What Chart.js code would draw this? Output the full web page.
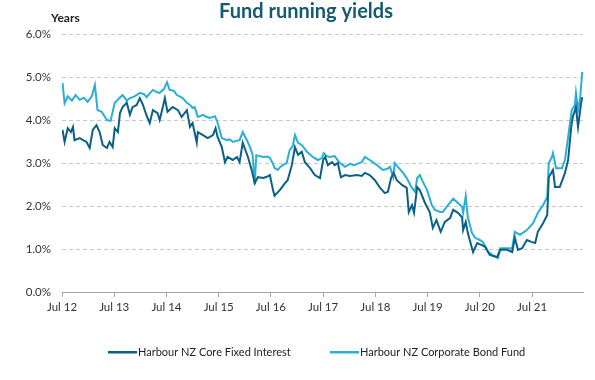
<!DOCTYPE html>
<html>
<head>
<meta charset="utf-8">
<script src="https://cdn.jsdelivr.net/npm/chart.js@4"></script>
<style>
html,body{margin:0;padding:0;background:#fff;}
#wrap{width:595px;height:380px;position:relative;}
</style>
</head>
<body>
<div id="wrap"><canvas id="c" width="595" height="380"></canvas></div>
<script>
const chartTitle = "Fund running yields";
const yAxisTitle = "Years";
const seriesNames = ["Harbour NZ Core Fixed Interest", "Harbour NZ Corporate Bond Fund"];
const seriesColors = ["#0b6185", "#2aaed6"];

const xTickValues = [2012.5, 2013.5, 2014.5, 2015.5, 2016.5, 2017.5, 2018.5, 2019.5, 2020.5, 2021.5];
const xTickLabels = ["Jul 12", "Jul 13", "Jul 14", "Jul 15", "Jul 16", "Jul 17", "Jul 18", "Jul 19", "Jul 20", "Jul 21"];
const yTickLabels = ["0.0%", "1.0%", "2.0%", "3.0%", "4.0%", "5.0%", "6.0%"];

// Harbour NZ Core Fixed Interest (dates as decimal years, values in %)
const coreDates = [2012.51,2012.55,2012.61,2012.67,2012.71,2012.74,2012.84,2012.92,2012.97,2013.03,2013.09,2013.16,2013.22,2013.28,2013.36,2013.41,2013.47,2013.51,2013.57,2013.61,2013.66,2013.74,2013.80,2013.85,2013.93,2013.99,2014.05,2014.12,2014.18,2014.24,2014.33,2014.37,2014.43,2014.47,2014.52,2014.62,2014.72,2014.79,2014.89,2014.95,2015.00,2015.08,2015.10,2015.20,2015.29,2015.39,2015.44,2015.48,2015.56,2015.62,2015.67,2015.77,2015.85,2015.90,2015.96,2016.06,2016.13,2016.19,2016.25,2016.35,2016.42,2016.48,2016.54,2016.57,2016.67,2016.77,2016.82,2016.90,2016.96,2017.02,2017.09,2017.15,2017.25,2017.34,2017.44,2017.50,2017.54,2017.59,2017.67,2017.72,2017.78,2017.84,2017.92,2018.01,2018.15,2018.24,2018.30,2018.39,2018.49,2018.58,2018.68,2018.74,2018.80,2018.85,2018.91,2019.01,2019.10,2019.14,2019.20,2019.24,2019.30,2019.35,2019.45,2019.54,2019.60,2019.67,2019.75,2019.83,2019.93,2019.99,2020.08,2020.16,2020.18,2020.23,2020.27,2020.37,2020.45,2020.54,2020.60,2020.69,2020.83,2020.89,2021.02,2021.12,2021.17,2021.23,2021.31,2021.40,2021.50,2021.56,2021.61,2021.71,2021.79,2021.82,2021.90,2021.94,2022.03,2022.13,2022.19,2022.25,2022.28,2022.34,2022.38,2022.44,2022.46];
const coreValues = [3.77,3.49,3.81,3.72,3.84,3.53,3.58,3.52,3.49,3.35,3.77,3.88,3.72,3.42,3.35,3.49,3.37,3.81,3.72,4.16,4.30,4.40,4.12,4.30,4.35,4.51,4.35,4.10,3.93,4.23,4.16,4.00,4.30,4.51,4.19,4.30,4.23,4.07,4.23,3.84,3.93,3.47,3.72,3.65,3.58,3.65,3.81,3.60,3.37,3.02,3.14,3.07,3.14,3.02,3.47,3.14,2.84,2.53,2.67,2.65,2.68,2.72,2.37,2.24,2.37,2.53,2.60,2.95,3.37,3.19,3.26,3.02,2.88,2.72,2.65,3.07,3.14,2.95,3.02,2.95,3.00,2.67,2.72,2.70,2.72,2.70,2.77,2.72,2.60,2.44,2.30,2.33,2.65,2.77,2.60,2.49,2.42,1.86,2.02,1.84,2.44,2.37,2.07,1.86,1.49,1.67,1.40,1.63,1.72,1.91,1.84,1.74,1.44,1.63,1.37,0.93,1.14,1.09,1.05,0.86,0.81,0.98,0.98,0.93,1.26,0.98,1.02,1.21,1.16,1.14,1.40,1.60,1.79,2.67,2.84,2.44,2.44,2.77,3.07,3.84,4.07,4.30,3.84,4.40,4.53];

// Harbour NZ Corporate Bond Fund
const corpDates = [2012.51,2012.55,2012.61,2012.69,2012.76,2012.84,2012.92,2012.99,2013.07,2013.13,2013.18,2013.26,2013.36,2013.43,2013.51,2013.59,2013.66,2013.74,2013.80,2013.89,2013.99,2014.07,2014.12,2014.18,2014.24,2014.31,2014.37,2014.45,2014.51,2014.56,2014.64,2014.70,2014.75,2014.81,2014.89,2014.95,2015.00,2015.04,2015.10,2015.20,2015.25,2015.33,2015.43,2015.48,2015.56,2015.66,2015.71,2015.77,2015.85,2015.90,2015.96,2016.04,2016.10,2016.15,2016.19,2016.22,2016.29,2016.35,2016.42,2016.48,2016.54,2016.57,2016.63,2016.69,2016.73,2016.80,2016.86,2016.92,2016.96,2017.02,2017.09,2017.19,2017.25,2017.30,2017.40,2017.48,2017.51,2017.57,2017.63,2017.72,2017.82,2017.92,2018.01,2018.09,2018.15,2018.24,2018.30,2018.39,2018.45,2018.55,2018.64,2018.72,2018.78,2018.84,2018.87,2018.93,2019.03,2019.10,2019.20,2019.26,2019.30,2019.35,2019.41,2019.49,2019.58,2019.64,2019.74,2019.79,2019.89,2019.99,2020.08,2020.16,2020.18,2020.23,2020.27,2020.35,2020.41,2020.50,2020.56,2020.66,2020.75,2020.85,2020.89,2020.98,2021.12,2021.17,2021.27,2021.40,2021.52,2021.61,2021.71,2021.79,2021.82,2021.88,2021.90,2021.96,2022.07,2022.13,2022.19,2022.26,2022.32,2022.34,2022.38,2022.42,2022.46];
const corpValues = [4.86,4.39,4.55,4.45,4.58,4.47,4.52,4.42,4.55,4.81,4.23,4.19,4.00,3.98,4.40,4.50,4.58,4.45,4.51,4.55,4.63,4.60,4.53,4.62,4.70,4.65,4.63,4.72,4.88,4.70,4.68,4.58,4.55,4.51,4.40,4.35,4.28,4.30,4.07,4.12,4.08,4.05,4.09,3.93,3.58,3.53,3.55,3.49,3.52,3.53,3.72,3.53,3.37,3.19,2.50,3.18,3.16,3.14,3.15,3.12,2.98,2.88,2.84,2.92,2.95,3.00,3.30,3.40,3.65,3.47,3.42,3.26,3.20,3.14,3.07,3.12,3.23,3.16,3.14,3.16,3.00,2.91,2.98,2.95,2.98,3.02,3.14,3.07,3.02,2.93,2.84,2.86,2.91,2.67,3.00,2.91,2.77,2.65,2.42,2.33,2.65,2.72,2.56,2.37,2.02,1.91,1.86,1.86,2.02,2.17,2.07,1.98,1.84,2.23,1.74,1.37,1.26,1.21,1.16,0.93,0.86,0.79,1.02,1.02,1.02,1.40,1.33,1.44,1.60,1.84,2.02,2.21,3.00,3.14,3.23,2.88,2.88,3.07,3.60,4.23,4.35,4.63,4.23,4.51,5.12];

const toPoints = (xs, ys) => xs.map((x, i) => ({x: x, y: ys[i]}));

const FONT = "Lato, 'Open Sans', sans-serif";

const overlay = {
  id: 'overlay',
  afterDraw(chart) {
    const ctx = chart.ctx;
    ctx.save();
    // Title
    ctx.fillStyle = '#135a74';
    ctx.font = "bold 20px " + FONT;
    ctx.textAlign = 'center';
    ctx.textBaseline = 'middle';
    ctx.fillText(chartTitle, 306, 12);
    // Axis title
    ctx.fillStyle = '#222';
    ctx.font = "bold 12px " + FONT;
    ctx.textAlign = 'left';
    ctx.fillText(yAxisTitle, 51, 18);
    // Legend
    ctx.font = "11px " + FONT;
    const starts = [108, 330];
    chart.data.datasets.forEach((ds, i) => {
      const x0 = starts[i];
      ctx.fillStyle = ds.borderColor;
      ctx.fillRect(x0, 351, 29, 2.5);
      ctx.fillStyle = '#222';
      ctx.textAlign = 'left';
      ctx.textBaseline = 'middle';
      ctx.fillText(ds.label, x0 + 30, 352);
    });
    ctx.restore();
  }
};

new Chart(document.getElementById('c'), {
  type: 'line',
  data: {
    datasets: [
      {label: seriesNames[0], data: toPoints(coreDates, coreValues), borderColor: seriesColors[0], backgroundColor: seriesColors[0], borderWidth: 2, pointRadius: 0, tension: 0},
      {label: seriesNames[1], data: toPoints(corpDates, corpValues), borderColor: seriesColors[1], backgroundColor: seriesColors[1], borderWidth: 2, pointRadius: 0, tension: 0}
    ]
  },
  options: {
    responsive: false,
    animation: false,
    events: [],
    layout: {padding: {top: 34, right: 12, bottom: 58, left: 0}},
    plugins: {legend: {display: false}, title: {display: false}, tooltip: {enabled: false}},
    scales: {
      x: {
        type: 'linear',
        min: 2012.5,
        max: 2022.475,
        afterBuildTicks: (s) => { s.ticks = xTickValues.map(v => ({value: v})); },
        afterFit: (s) => { s.height = 30; },
        ticks: {
          autoSkip: false,
          maxRotation: 0,
          padding: 3,
          color: '#333',
          font: {family: FONT, size: 11.5},
          callback: (v) => { const i = xTickValues.indexOf(v); return i >= 0 ? xTickLabels[i] : ''; }
        },
        grid: {drawOnChartArea: false, drawTicks: true, tickLength: 5, color: '#a6a6a6', lineWidth: 1},
        border: {display: true, color: '#a6a6a6', width: 1}
      },
      y: {
        min: 0,
        max: 6,
        afterFit: (s) => { s.width = 62; },
        ticks: {
          stepSize: 1,
          padding: 11,
          color: '#333',
          font: {family: FONT, size: 11.5},
          callback: (v) => yTickLabels[Math.round(v)]
        },
        grid: {drawTicks: false, color: (c) => c.tick && c.tick.value === 0 ? 'rgba(0,0,0,0)' : '#c4c9cc', lineWidth: 1},
        border: {display: false, dash: [4, 3]}
      }
    }
  },
  plugins: [overlay]
});
</script>
</body>
</html>
